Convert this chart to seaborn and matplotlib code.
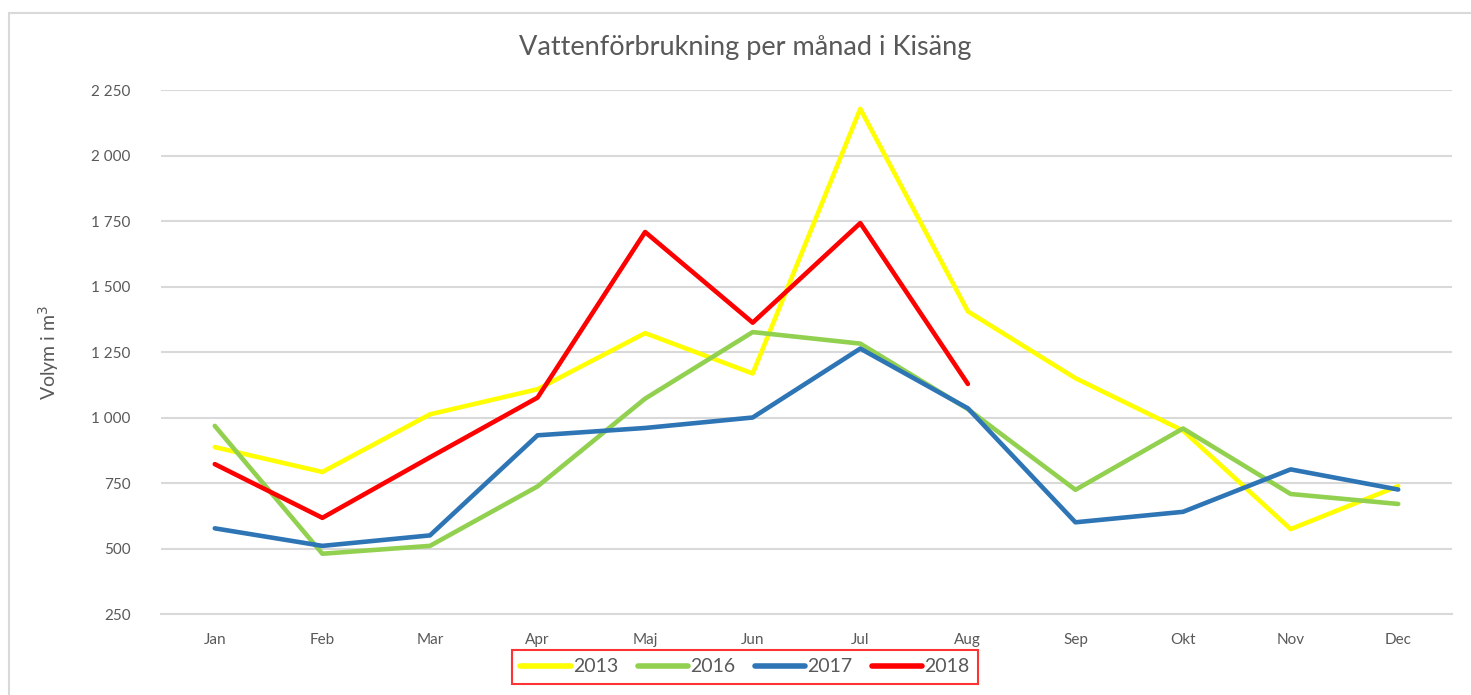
import pandas as pd
import numpy as np
import matplotlib.pyplot as plt
import seaborn as sns
from matplotlib.patches import Rectangle
from matplotlib.ticker import FuncFormatter, FixedLocator

months = ["Jan", "Feb", "Mar", "Apr", "Maj", "Jun", "Jul", "Aug", "Sep", "Okt", "Nov", "Dec"]
v2013 = [887, 792, 1012, 1108, 1322, 1168, 2178, 1405, 1150, 950, 574, 738]
v2016 = [968, 480, 510, 737, 1072, 1326, 1282, 1032, 724, 958, 708, 670]
v2017 = [577, 510, 550, 932, 960, 1000, 1263, 1035, 600, 640, 802, 725]
v2018 = [822, 617, 848, 1076, 1708, 1362, 1742, 1128, np.nan, np.nan, np.nan, np.nan]
years = ["2013", "2016", "2017", "2018"]
colors = ["#FFFF00", "#92D050", "#2E75B6", "#FF0000"]

# long format for seaborn
rows = []
for year, vals in zip(years, [v2013, v2016, v2017, v2018]):
    for i, v in enumerate(vals):
        rows.append([year, i, v])
df = pd.DataFrame(rows, columns=["year", "month", "value"]).dropna()

sns.set_style("white")
plt.rcParams['font.family'] = ['Lato', 'DejaVu Sans']
grey = "#595959"

fig = plt.figure(figsize=(14.71, 6.95), dpi=100)
ax = fig.add_axes([161 / 1471, 1 - 614 / 695, (1452 - 161) / 1471, (614 - 90) / 695])

sns.lineplot(data=df, x="month", y="value", hue="year", palette=colors,
             linewidth=3.3, ax=ax, sort=False, legend=True)

ax.set_xlim(-0.5, 11.5)
ax.set_ylim(250, 2250)
ax.set_yticks(np.arange(250, 2251, 250))
ax.yaxis.set_major_formatter(FuncFormatter(lambda v, p: f"{int(v):,}".replace(",", " ")))
ax.set_xticks(range(12))
ax.set_xticklabels(months)
ax.xaxis.set_minor_locator(FixedLocator(np.arange(-0.5, 12, 1)))
ax.tick_params(axis="x", which="major", length=0, pad=14, labelsize=11, labelcolor=grey)
ax.tick_params(axis="x", which="minor", length=5, width=1.5, color="#D9D9D9", direction="out")
ax.tick_params(axis="y", length=0, pad=22, labelsize=11, labelcolor=grey)
ax.grid(axis="y", color="#D9D9D9", linewidth=1.5)
ax.set_axisbelow(True)
for s in ["top", "right", "left"]:
    ax.spines[s].set_visible(False)
ax.spines["bottom"].set_color("#D9D9D9")
ax.spines["bottom"].set_linewidth(1.5)

ax.set_xlabel("")
ax.set_ylabel("Volym i m$^3$", fontsize=14, color=grey, labelpad=22)
fig.text(745 / 1471, 1 - 48 / 695, "Vattenförbrukning per månad i Kisäng",
         ha="center", va="center", fontsize=19.5, color=grey)

handles, labels = ax.get_legend_handles_labels()
leg = ax.legend(handles, labels, ncol=4, loc="center", frameon=True,
                bbox_to_anchor=(745 / 1471, 1 - 667 / 695), bbox_transform=fig.transFigure,
                fontsize=14, handlelength=2.6, handletextpad=0.1, columnspacing=1.0,
                borderpad=0.45, fancybox=False)
leg.get_frame().set_edgecolor("#FF0000")
leg.get_frame().set_linewidth(1.5)
for t in leg.get_texts():
    t.set_color(grey)
for l in leg.get_lines():
    l.set_linewidth(4)

# outer chart border
fig.patches.append(Rectangle((9 / 1471, -0.1), 1.2, 1 - 13 / 695 + 0.1, transform=fig.transFigure,
                             fill=False, edgecolor="#D9D9D9", linewidth=1.5))

fig.savefig("out.png", dpi=100)
